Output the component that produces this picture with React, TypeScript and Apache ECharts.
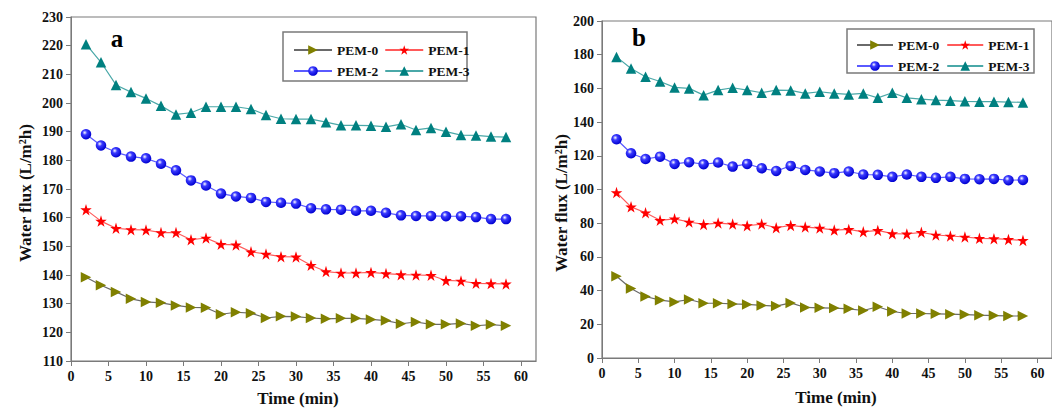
import React, { useEffect, useRef } from 'react';
import * as echarts from 'echarts';

const timeMin = [2, 4, 6, 8, 10, 12, 14, 16, 18, 20, 22, 24, 26, 28, 30, 32, 34, 36, 38, 40, 42, 44, 46, 48, 50, 52, 54, 56, 58];
const xTicks = [0, 5, 10, 15, 20, 25, 30, 35, 40, 45, 50, 55, 60];
const seriesNames = ['PEM-0', 'PEM-1', 'PEM-2', 'PEM-3'];

// Panel a
const aPEM0 = [139.2, 136.4, 134.1, 131.7, 130.6, 130.3, 129.4, 128.7, 128.6, 126.3, 127.0, 126.7, 125.0, 125.6, 125.5, 125.0, 124.7, 124.9, 124.9, 124.5, 124.1, 123.0, 123.6, 122.8, 122.8, 123.1, 122.3, 122.7, 122.3];
const aPEM1 = [162.8, 158.8, 156.3, 155.8, 155.7, 154.8, 154.8, 152.3, 152.9, 150.7, 150.5, 148.1, 147.3, 146.4, 146.3, 143.4, 141.2, 140.7, 140.7, 140.9, 140.5, 140.1, 140.0, 139.9, 138.1, 137.9, 137.1, 137.0, 136.9];
const aPEM2 = [189.1, 185.2, 182.8, 181.3, 180.7, 178.8, 176.5, 173.0, 171.2, 168.4, 167.4, 166.9, 165.5, 165.2, 164.9, 163.3, 162.9, 162.8, 162.4, 162.4, 161.7, 160.8, 160.6, 160.6, 160.5, 160.5, 160.2, 159.5, 159.5];
const aPEM3 = [220.5, 214.2, 206.3, 203.8, 201.6, 199.0, 196.0, 196.6, 198.7, 198.7, 198.7, 197.9, 195.8, 194.5, 194.4, 194.4, 193.3, 192.2, 192.2, 192.1, 191.7, 192.6, 190.6, 191.3, 190.0, 188.8, 188.7, 188.3, 188.1];

// Panel b
const bPEM0 = [48.5, 41.2, 36.5, 34.3, 33.3, 34.7, 32.5, 32.5, 32.1, 31.8, 31.2, 30.8, 32.7, 30.0, 29.8, 29.6, 29.2, 28.2, 30.4, 27.6, 26.4, 26.4, 26.2, 26.0, 25.8, 25.4, 25.2, 25.0, 24.9];
const bPEM1 = [98.2, 89.7, 86.2, 81.7, 82.6, 80.7, 79.3, 80.1, 79.5, 78.5, 79.5, 77.3, 78.7, 77.7, 77.1, 75.9, 76.3, 74.9, 75.7, 73.8, 73.6, 74.6, 73.0, 72.4, 71.8, 71.0, 70.8, 70.4, 69.8];
const bPEM2 = [129.8, 121.5, 118.1, 119.5, 115.2, 116.2, 115.0, 116.0, 113.6, 115.2, 112.6, 111.0, 114.0, 111.6, 110.7, 109.7, 110.7, 108.9, 108.7, 107.5, 108.9, 107.5, 106.9, 107.5, 106.3, 106.1, 106.3, 105.5, 105.7];
const bPEM3 = [178.7, 171.8, 166.9, 164.1, 160.6, 160.0, 156.0, 159.0, 160.4, 159.0, 157.4, 159.0, 158.8, 157.0, 158.0, 157.0, 156.4, 157.0, 154.4, 157.4, 154.4, 153.6, 153.1, 152.7, 152.3, 152.1, 152.1, 151.9, 151.7];

const panelA = [aPEM0, aPEM1, aPEM2, aPEM3];
const panelB = [bPEM0, bPEM1, bPEM2, bPEM3];

const FONT = "'Liberation Serif', 'Times New Roman', serif";
const TRI_RIGHT = 'path://M0,0 L10,5 L0,10 Z';
const STAR = 'path://M50,0 L61.2,34.5 L97.6,34.5 L68.2,55.9 L79.4,90.5 L50,69.1 L20.6,90.5 L31.8,55.9 L2.4,34.5 L38.8,34.5 Z';

const ball = {
  type: 'radial', x: 0.38, y: 0.35, r: 0.65,
  colorStops: [
    { offset: 0, color: '#ffffff' },
    { offset: 0.35, color: '#3a3aff' },
    { offset: 1, color: '#0000d0' },
  ],
};

const styles: any[] = [
  { symbol: TRI_RIGHT, symbolSize: 10.5, color: '#808000', line: '#6a6a6a' },
  { symbol: STAR, symbolSize: 11.5, color: '#ff0000', line: '#ff5a5a' },
  { symbol: 'circle', symbolSize: 10.5, color: ball, line: '#5a5aff' },
  { symbol: 'triangle', symbolSize: 10.5, color: '#008080', line: '#4aa8a8' },
];

const AXIS_COLOR = '#7a7a7a';
const labelStyle = { fontFamily: FONT, fontWeight: 'bold', fontSize: 14, color: '#111' };

function xAxisFor(gridIndex: number) {
  return {
    type: 'value', gridIndex, min: 0, max: 62,
    axisLine: { show: true, lineStyle: { color: AXIS_COLOR, width: 1 } },
    axisTick: { show: true, inside: false, length: 5, lineStyle: { color: AXIS_COLOR }, customValues: xTicks },
    axisLabel: { ...labelStyle, margin: 8, customValues: xTicks },
    splitLine: { show: false },
  };
}

function yAxisFor(gridIndex: number, min: number, max: number, interval: number) {
  return {
    type: 'value', gridIndex, min, max, interval,
    axisLine: { show: true, lineStyle: { color: AXIS_COLOR, width: 1 } },
    axisTick: { show: true, inside: false, length: 5, lineStyle: { color: AXIS_COLOR } },
    axisLabel: { ...labelStyle, margin: 8 },
    splitLine: { show: false },
  };
}

function legendRow(names: string[], left: number, top: number, itemWidth: number, itemGap: number) {
  return {
    data: names, left, top, orient: 'horizontal', padding: 0,
    itemWidth, itemHeight: 12, itemGap, selectedMode: false,
    textStyle: { fontFamily: FONT, fontWeight: 'bold', fontSize: 13.5, color: '#111' },
  };
}

export default function App() {
  const ref = useRef<HTMLDivElement>(null);
  useEffect(() => {
    document.body.style.margin = '0';
    if (!ref.current) return;
    const chart = echarts.init(ref.current, undefined, { renderer: 'svg' });

    const series: any[] = [];
    [panelA, panelB].forEach((panel, gi) => {
      panel.forEach((vals, si) => {
        const st = styles[si];
        series.push({
          name: seriesNames[si],
          type: 'line',
          xAxisIndex: gi, yAxisIndex: gi,
          data: timeMin.map((t, i) => [t, vals[i]]),
          symbol: st.symbol,
          symbolSize: st.symbolSize,
          showAllSymbol: true,
          itemStyle: { color: st.color, borderWidth: 0 },
          lineStyle: { color: st.line, width: 1.2 },
          z: 2 + si,
        });
      });
    });

    const option: any = {
      animation: false,
      backgroundColor: '#ffffff',
      grid: [
        { left: 71, top: 17, width: 465, height: 344, show: true, borderColor: AXIS_COLOR, borderWidth: 1.2, backgroundColor: 'transparent' },
        { left: 602, top: 21, width: 459, height: 337, show: true, borderColor: AXIS_COLOR, borderWidth: 1.2, backgroundColor: 'transparent' },
      ],
      xAxis: [xAxisFor(0), xAxisFor(1)],
      yAxis: [yAxisFor(0, 110, 230, 10), yAxisFor(1, 0, 200, 20)],
      legend: [
        legendRow([seriesNames[0], seriesNames[1]], 293, 43, 38, 6),
        legendRow([seriesNames[2], seriesNames[3]], 293, 64, 38, 6),
        legendRow([seriesNames[0], seriesNames[1]], 856, 38, 36, 7),
        legendRow([seriesNames[2], seriesNames[3]], 856, 59, 36, 7),
      ],
      graphic: [
        { type: 'rect', shape: { x: 283, y: 32, width: 184, height: 49 }, style: { fill: 'none', stroke: AXIS_COLOR, lineWidth: 1.5 }, z: 1 },
        { type: 'rect', shape: { x: 847, y: 29, width: 187, height: 44 }, style: { fill: 'none', stroke: AXIS_COLOR, lineWidth: 1.5 }, z: 1 },
        { type: 'text', x: 117, y: 38, style: { text: 'a', font: `bold 25px ${FONT}`, fill: '#000', textAlign: 'center', textVerticalAlign: 'middle' } },
        { type: 'text', x: 639, y: 37, style: { text: 'b', font: `bold 25px ${FONT}`, fill: '#000', textAlign: 'center', textVerticalAlign: 'middle' } },
        { type: 'text', x: 298, y: 398, style: { text: 'Time (min)', font: `bold 17px ${FONT}`, fill: '#111', textAlign: 'center', textVerticalAlign: 'middle' } },
        { type: 'text', x: 836, y: 397, style: { text: 'Time (min)', font: `bold 17px ${FONT}`, fill: '#111', textAlign: 'center', textVerticalAlign: 'middle' } },
        { type: 'text', x: 25, y: 193, rotation: Math.PI / 2, style: { text: 'Water flux (L/m²h)', font: `bold 17px ${FONT}`, fill: '#111', textAlign: 'center', textVerticalAlign: 'middle' } },
        { type: 'text', x: 561, y: 203, rotation: Math.PI / 2, style: { text: 'Water flux (L/m²h)', font: `bold 17px ${FONT}`, fill: '#111', textAlign: 'center', textVerticalAlign: 'middle' } },
      ],
      series,
    };
    chart.setOption(option);
    return () => chart.dispose();
  }, []);
  return <div ref={ref} style={{ position: 'fixed', left: 0, top: 0, width: 1052, height: 408 }} />;
}
